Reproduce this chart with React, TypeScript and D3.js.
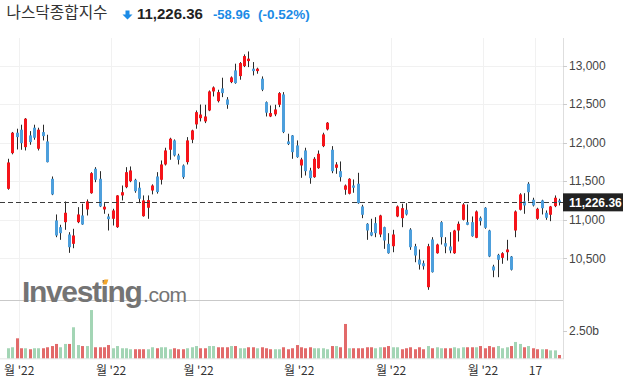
import React from "react";
import * as d3 from "d3";

// trading days, 2022-05-26 .. 2022-11-25
const days = [
  "05-26", "05-27", "05-31",
  "06-01", "06-02", "06-03", "06-06", "06-07", "06-08", "06-09", "06-10", "06-13", "06-14",
  "06-15", "06-16", "06-17", "06-21", "06-22", "06-23", "06-24", "06-27", "06-28", "06-29", "06-30",
  "07-01", "07-05", "07-06", "07-07", "07-08", "07-11", "07-12", "07-13", "07-14", "07-15",
  "07-18", "07-19", "07-20", "07-21", "07-22", "07-25", "07-26", "07-27", "07-28", "07-29",
  "08-01", "08-02", "08-03", "08-04", "08-05", "08-08", "08-09", "08-10", "08-11", "08-12",
  "08-15", "08-16", "08-17", "08-18", "08-19", "08-22", "08-23", "08-24", "08-25", "08-26",
  "08-29", "08-30", "08-31",
  "09-01", "09-02", "09-06", "09-07", "09-08", "09-09", "09-12", "09-13", "09-14", "09-15",
  "09-16", "09-19", "09-20", "09-21", "09-22", "09-23", "09-26", "09-27", "09-28", "09-29", "09-30",
  "10-03", "10-04", "10-05", "10-06", "10-07", "10-10", "10-11", "10-12", "10-13", "10-14",
  "10-17", "10-18", "10-19", "10-20", "10-21", "10-24", "10-25", "10-26", "10-27", "10-28", "10-31",
  "11-01", "11-02", "11-03", "11-04", "11-07", "11-08", "11-09", "11-10", "11-11", "11-14",
  "11-15", "11-16", "11-17", "11-18", "11-21", "11-22", "11-23", "11-25",
];

const open = [
  11402, 11865, 12130, 12169, 11943, 12095, 12195, 11922, 12138, 12017,
  11532, 10991, 10904, 10969, 10809, 10688, 10969, 11056, 11134, 11345,
  11662, 11532, 11134, 11043, 11013, 10904, 11316, 11423, 11501, 11519,
  11416, 11047, 11156, 11380, 11562, 11519, 11718, 11909, 12030, 11835,
  11705, 11748, 12039, 12238, 12319, 12277, 12419, 12666, 12540, 12705,
  12562, 12787, 12939, 12865, 12995, 13060, 12961, 12930, 12831, 12527,
  12341, 12368, 12493, 12627, 12017, 12095, 11965, 11705, 11900, 11640,
  11553, 11670, 11956, 12173, 11909, 11675, 11631, 11390, 11338, 11445,
  11468, 11173, 10948, 10839, 10956, 10809, 10904, 10688, 10657, 11043,
  11021, 11130, 10874, 10657, 10484, 10436, 10125, 10744, 10566, 10969,
  10696, 10653, 10566, 10861, 11000, 10969, 10969, 10766, 11026, 11156,
  10861, 10394, 10545, 10506, 10579, 10523, 10861, 11130, 11238, 11468,
  11260, 11013, 11251, 11091, 11065, 11177, 11250,
];
const high = [
  11792, 12140, 12182, 12234, 12320, 12151, 12234, 12195, 12234, 12104,
  11562, 11069, 10935, 11238, 10839, 10883, 11164, 11208, 11264, 11618,
  11683, 11631, 11216, 11078, 11143, 11320, 11445, 11683, 11692, 11532,
  11488, 11316, 11316, 11460, 11618, 11770, 11935, 12065, 12043, 11857,
  11718, 12073, 12169, 12419, 12496, 12493, 12679, 12731, 12688, 12844,
  12592, 12861, 13026, 13047, 13147, 13185, 13047, 12974, 12861, 12536,
  12484, 12493, 12657, 12657, 12117, 12100, 12030, 11805, 11935, 11675,
  11813, 11900, 12130, 12268, 11956, 11748, 11757, 11458, 11540, 11523,
  11610, 11195, 10956, 11013, 11034, 11065, 10910, 10826, 10870, 11186,
  11208, 11216, 10891, 10688, 10614, 10471, 10688, 10774, 10690, 10982,
  10774, 10839, 10870, 10978, 11216, 11199, 11043, 11121, 11043, 11164,
  10870, 10416, 10558, 10579, 10740, 10530, 11121, 11345, 11345, 11488,
  11286, 11156, 11260, 11121, 11180, 11316, 11273,
];
const low = [
  11390, 11850, 11913, 11909, 11900, 11974, 12039, 11900, 12030, 11745,
  11320, 10774, 10740, 10870, 10571, 10631, 10956, 10935, 11056, 11338,
  11488, 11165, 11078, 10861, 10926, 10895, 11251, 11410, 11488, 11351,
  11216, 11040, 11013, 11330, 11340, 11458, 11705, 11779, 11822, 11718,
  11532, 11718, 11995, 12182, 12277, 12255, 12410, 12601, 12523, 12592,
  12441, 12774, 12766, 12818, 12982, 12982, 12874, 12896, 12670, 12341,
  12333, 12345, 12462, 12125, 11970, 11792, 11805, 11545, 11575, 11468,
  11545, 11662, 11943, 12160, 11605, 11597, 11497, 11325, 11330, 11351,
  11208, 11021, 10740, 10787, 10774, 10774, 10623, 10560, 10579, 11034,
  10904, 11056, 10610, 10449, 10354, 10354, 10091, 10315, 10560, 10679,
  10566, 10566, 10558, 10718, 10991, 10930, 10780, 10761, 10926, 10883,
  10515, 10255, 10255, 10429, 10471, 10342, 10774, 11121, 11078, 11238,
  11173, 11000, 11069, 11000, 10982, 11164, 11186,
];
const close = [
  11744, 12130, 12073, 11995, 12312, 12008, 12065, 12169, 12086, 11748,
  11329, 10796, 10826, 11091, 10644, 10796, 11069, 10939, 11238, 11605,
  11519, 11173, 11170, 11008, 11121, 11316, 11358, 11618, 11640, 11371,
  11273, 11251, 11255, 11445, 11360, 11718, 11900, 12052, 11835, 11779,
  11553, 12030, 12160, 12397, 12366, 12341, 12666, 12718, 12657, 12644,
  12493, 12848, 12774, 13034, 13125, 13091, 12930, 12961, 12688, 12390,
  12385, 12432, 12644, 12138, 11982, 11878, 11813, 11783, 11631, 11540,
  11792, 11857, 12108, 12260, 11631, 11718, 11553, 11445, 11532, 11416,
  11216, 11065, 10861, 10796, 10826, 11056, 10731, 10566, 10809, 11173,
  11151, 11069, 10644, 10536, 10419, 10397, 10657, 10320, 10679, 10774,
  10653, 10601, 10861, 10948, 11199, 10935, 10787, 11108, 10982, 10896,
  10523, 10342, 10481, 10566, 10614, 10351, 11108, 11329, 11186, 11358,
  11186, 11143, 11150, 11026, 11173, 11286, 11226.36,
];
// volume, billions
const volume = [
  0.91, 1.0, 1.81, 0.91, 0.91, 0.82, 0.91, 0.91, 0.91, 1.0,
  1.11, 1.3, 1.0, 1.3, 1.3, 2.81, 1.2, 1.11, 1.11, 4.37,
  1.0, 1.0, 1.0, 1.2, 0.91, 1.11, 0.91, 0.91, 0.82, 0.82,
  0.82, 0.82, 0.82, 1.0, 0.91, 1.0, 1.0, 0.82, 0.91, 0.82,
  0.82, 0.91, 1.0, 1.11, 0.91, 0.91, 1.11, 1.11, 1.0, 1.0,
  1.0, 1.11, 1.11, 0.91, 0.91, 1.0, 1.0, 0.91, 1.0, 0.91,
  0.82, 0.82, 0.82, 1.0, 0.82, 0.91, 1.2, 1.0, 0.91, 1.0,
  0.91, 0.91, 0.91, 0.82, 1.11, 1.11, 1.0, 3.11, 0.91, 0.91,
  0.91, 0.91, 1.0, 1.0, 0.91, 1.0, 1.0, 1.11, 1.0, 1.0,
  0.82, 0.91, 1.0, 0.82, 1.0, 0.82, 1.11, 0.91, 1.0, 0.91,
  0.91, 0.91, 1.0, 0.91, 1.0, 1.0, 1.0, 1.0, 1.11, 0.91,
  1.11, 1.0, 1.11, 0.91, 1.0, 1.11, 1.48, 1.3, 1.0, 1.11,
  0.91, 0.82, 0.82, 0.82, 0.72, 0.72, 0.3,
];

const priceTicks = [10500, 11000, 11500, 12000, 12500, 13000];
const volumeTicks = [2.5];
const xTickDays = ["06-01", "07-01", "08-01", "09-01", "10-03", "11-01", "11-17"];
const xTickLabels = ["월 '22", "월 '22", "월 '22", "월 '22", "월 '22", "월 '22", "17"];

const title = "나스닥종합지수";
const change = "-58.96";
const changePct = "(-0.52%)";

const UP = "#f5141a";
const DOWN = "#4d9fdc";
const WICK = "#2a2a2a";
const VOL_UP = "#a3d5b5";
const VOL_DOWN = "#e26a6a";
const BLUE = "#1b8be6";
const GRID = "#f1f1f1";

export default function App() {
  const axisX = 563;
  const top = 38;
  const sep = 300;
  const volBase = 358.3;

  const x = d3.scaleBand<string>().domain(days).range([6.1, 561.7]).padding(0);
  const bw = x.bandwidth();
  const y = d3.scaleLinear().domain([10500, 13000]).range([258.3, 65.7]);
  const yv = d3.scaleLinear().domain([0, 2.5]).range([volBase, 330.7]);
  const fmtPrice = d3.format(",.0f");
  const last = close[close.length - 1];
  const lastY = y(last);

  const num = "'Liberation Sans', Arial, sans-serif";
  const kr = "'Noto Sans CJK KR', 'Liberation Sans', sans-serif";

  return (
    <svg
      width={628}
      height={384}
      style={{ position: "absolute", left: 0, top: 0, background: "#fff" }}
    >
      {/* header */}
      <text x={6.5} y={18} fontFamily={kr} fontSize={15.7} fill="#333">{title}</text>
      <path d="M125.5,10.5 h4 v4 h3 l-5,5 l-5,-5 h3 z" fill={BLUE} />
      <text x={137} y={19.3} fontFamily={num} fontSize={15} fontWeight="bold" fill="#222">
        {d3.format(",.2f")(last)}
      </text>
      <text x={213} y={19.3} fontFamily={num} fontSize={13} fontWeight="bold" fill={BLUE}>{change}</text>
      <text x={258} y={19.3} fontFamily={num} fontSize={13.5} fontWeight="bold" fill={BLUE}>{changePct}</text>

      {/* grid */}
      {priceTicks.map((t) => (
        <line key={"h" + t} x1={0} x2={axisX} y1={Math.round(y(t)) + 0.5} y2={Math.round(y(t)) + 0.5} stroke={GRID} />
      ))}
      {xTickDays.map((d) => (
        <line key={"v" + d} x1={Math.round(x(d)!) + 0.5} x2={Math.round(x(d)!) + 0.5} y1={top} y2={volBase} stroke={GRID} />
      ))}

      {/* panel lines */}
      <line x1={0} x2={axisX} y1={sep + 0.5} y2={sep + 0.5} stroke="#c9c9c9" />
      <line x1={0} x2={axisX} y1={volBase + 0.5} y2={volBase + 0.5} stroke="#e4e4e4" />
      <line x1={axisX + 0.5} x2={axisX + 0.5} y1={top} y2={volBase + 1} stroke="#dedede" />

      {/* watermark */}
      <text x={22} y={301.5} fontFamily={num} fontSize={30} fontWeight="bold" fill="#747474" letterSpacing={-1.35}>
        Investing
        <tspan fontWeight="normal" fontSize={21} letterSpacing={-0.5} dx={1.5}>.com</tspan>
      </text>
      <polygon points="102.6,284.6 106.6,284.6 108.4,279.6 104.4,279.6" fill="#f4a62a" />

      {/* candles */}
      {days.map((d, i) => {
        const cx = x(d)! + bw / 2;
        const o = open[i], c = close[i];
        const yTop = y(Math.max(o, c));
        const yBot = y(Math.min(o, c));
        return (
          <g key={d}>
            <rect x={Math.round(cx - 0.5)} y={y(high[i])} width={1} height={y(low[i]) - y(high[i])} fill={WICK} />
            <rect x={Math.round(cx - 1.5)} y={yTop} width={3} height={Math.max(1, yBot - yTop)} fill={c >= o ? UP : DOWN} />
          </g>
        );
      })}

      {/* volume */}
      {days.map((d, i) => {
        const cx = x(d)! + bw / 2;
        const up = i === 0 ? close[i] >= open[i] : close[i] >= close[i - 1];
        return (
          <rect key={"vol" + d} x={Math.round(cx - 1.5)} y={yv(volume[i])} width={3} height={volBase - yv(volume[i])} fill={up ? VOL_UP : VOL_DOWN} />
        );
      })}

      {/* last price line */}
      <line x1={0} x2={axisX} y1={Math.round(lastY) + 0.5} y2={Math.round(lastY) + 0.5} stroke="#3c3c3c" strokeDasharray="5 3" />

      {/* right axis */}
      {priceTicks.map((t) => (
        <g key={"pt" + t}>
          <line x1={axisX} x2={axisX + 4} y1={Math.round(y(t)) + 0.5} y2={Math.round(y(t)) + 0.5} stroke="#ccc" />
          <text x={569} y={y(t)} dy="0.35em" fontFamily={num} fontSize={12} fill="#444">{fmtPrice(t)}</text>
        </g>
      ))}
      {volumeTicks.map((t) => (
        <g key={"vt" + t}>
          <line x1={axisX} x2={axisX + 4} y1={Math.round(yv(t)) + 0.5} y2={Math.round(yv(t)) + 0.5} stroke="#ccc" />
          <text x={569} y={yv(t)} dy="0.35em" fontFamily={num} fontSize={12} fill="#444">{d3.format(".2f")(t) + "b"}</text>
        </g>
      ))}
      <rect x={axisX} y={lastY - 9} width={60} height={18} fill="#222" />
      <text x={569} y={lastY} dy="0.36em" fontFamily={num} fontSize={12} fontWeight="bold" fill="#fff">
        {d3.format(",.2f")(last)}
      </text>

      {/* bottom axis */}
      {xTickDays.map((d, i) => (
        <text key={"xl" + d} x={x(d)!} y={375} textAnchor="middle" fontFamily={kr} fontSize={12} fill="#333">
          {xTickLabels[i]}
        </text>
      ))}
    </svg>
  );
}
